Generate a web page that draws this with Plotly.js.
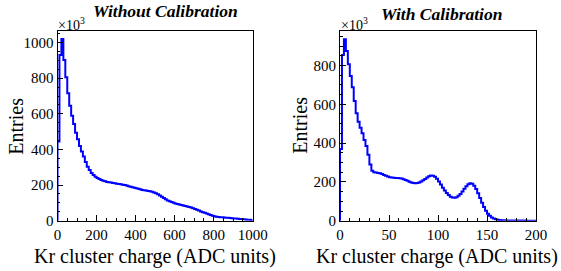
<!DOCTYPE html>
<html>
<head>
<meta charset="utf-8">
<script src="https://cdn.plot.ly/plotly-3.0.1.min.js"></script>
<style>html,body{margin:0;padding:0;background:#fff}#chart{width:561px;height:271px}</style>
</head>
<body>
<div id="chart"></div>
<script>
// Without calibration: 100 bins of 10 ADC units, 0..1000 (entries in thousands)
var binWidthRaw = 10;
var rawCounts = [445,930,1020,903,806,716,646,590,543,494,
  457,420,388,360,330,303,285,268,256,247,
  240,234,229,225,221,218,216,214,212,210,
  208,206,204,202,200,197,194,191,188,185,
  182,179,176,173,171,169,167,165,162,159,
  154,148,141,134,127,120,114,109,105,101,
  97,94,91,88,85,83,80,77,74,70,
  66,62,57,52,48,44,40,36,32,28,
  25,22,21,20,19,18,17,16,15,14,
  13,12,11,10,9,8,7,6,5,4];
// With calibration: 100 bins of 2 ADC units, 0..200 (entries in thousands)
var binWidthCal = 2;
var calCounts = [370,854,935,875,806,746,688,617,554,510,
  479,450,416,385,340,290,258,250,248,246,
  244,240,236,232,228,224,222,221,220,220,
  219,217,214,210,206,201,197,194,193,194,
  197,202,208,215,223,229,233,232,226,216,
  202,186,170,156,143,132,124,119,118,121,
  128,138,151,165,178,188,193,190,180,163,
  141,117,92,70,51,36,25,17,11,7,
  5,3.5,2.5,2,1.5,1.2,1,0.8,0.7,0.6,
  0.5,0.5,0.4,0.4,0.4,0.3,0.3,0.3,0.3,0.3];
var xTitle = "Kr cluster charge (ADC units)";
var yTitle = "Entries";
var titles = ["Without Calibration", "With Calibration"];

function stepTrace(counts, w, xa, ya) {
  var xs = [0], ys = [0];
  for (var i = 0; i < counts.length; i++) { xs.push(i * w); ys.push(counts[i]); }
  xs.push(counts.length * w); ys.push(counts[counts.length - 1]);
  return {x: xs, y: ys, type: 'scatter', mode: 'lines', xaxis: xa, yaxis: ya,
    line: {shape: 'hv', color: '#0000ff', width: 2}, hoverinfo: 'skip', showlegend: false};
}

var W = 561, H = 271;
function px(x) { return x / W; }
function py(y) { return 1 - y / H; }

var FAM = 'Liberation Serif';
function axisBase(extra) {
  var a = {showline: true, linecolor: '#000', linewidth: 1, mirror: true,
    ticks: 'inside', ticklen: 5.5, tickwidth: 1, tickcolor: '#000',
    showgrid: false, zeroline: false, fixedrange: true,
    tickfont: {family: FAM, size: 15, color: '#000'}};
  for (var k in extra) a[k] = extra[k];
  return a;
}
function minorTicks(d) {
  return {dtick: d, ticks: 'inside', ticklen: 2.8, tickcolor: '#000', tickwidth: 1, showgrid: false};
}
function ann(text, x, y, size, extra) {
  var a = {text: text, x: px(x), y: py(y), xref: 'paper', yref: 'paper', showarrow: false,
    xanchor: 'center', yanchor: 'middle', font: {family: FAM, size: size, color: '#000'}};
  for (var k in extra) a[k] = extra[k];
  return a;
}

var yDom = [py(220.7), py(30.7)];
var titleFont = {family: FAM, size: 17.5, color: '#000', weight: 'bold', style: 'italic'};
var layout = {
  width: W, height: H, margin: {l: 0, r: 0, t: 0, b: 0},
  font: {family: FAM, color: '#000'},
  paper_bgcolor: '#fff', plot_bgcolor: '#fff', showlegend: false,
  xaxis: axisBase({domain: [px(57.5), px(252.7)], range: [0, 1000], tick0: 0, dtick: 200,
    minor: minorTicks(50), anchor: 'y'}),
  yaxis: axisBase({domain: yDom, range: [0, 1067], tick0: 0, dtick: 200,
    minor: minorTicks(50), anchor: 'x'}),
  xaxis2: axisBase({domain: [px(340), px(536)], range: [0, 200], tick0: 0, dtick: 50,
    minor: minorTicks(10), anchor: 'y2'}),
  yaxis2: axisBase({domain: yDom, range: [0, 979], tick0: 0, dtick: 200,
    minor: minorTicks(50), anchor: 'x2'}),
  annotations: [
    ann(titles[0], 165, 11, 17.5, {font: titleFont}),
    ann(titles[1], 441, 14, 17.5, {font: titleFont}),
    ann('×10<sup>3</sup>', 55.5, 23.5, 14, {xanchor: 'left'}),
    ann('×10<sup>3</sup>', 338.5, 23.5, 14, {xanchor: 'left'}),
    ann(xTitle, 155, 256.7, 20),
    ann(xTitle, 437, 256.7, 20),
    ann(yTitle, 16, 125.7, 20, {textangle: -90}),
    ann(yTitle, 300, 125.7, 20, {textangle: -90})
  ]
};

var data = [stepTrace(rawCounts, binWidthRaw, 'x', 'y'), stepTrace(calCounts, binWidthCal, 'x2', 'y2')];
Plotly.newPlot('chart', data, layout, {displayModeBar: false, staticPlot: true});
</script>
</body>
</html>
